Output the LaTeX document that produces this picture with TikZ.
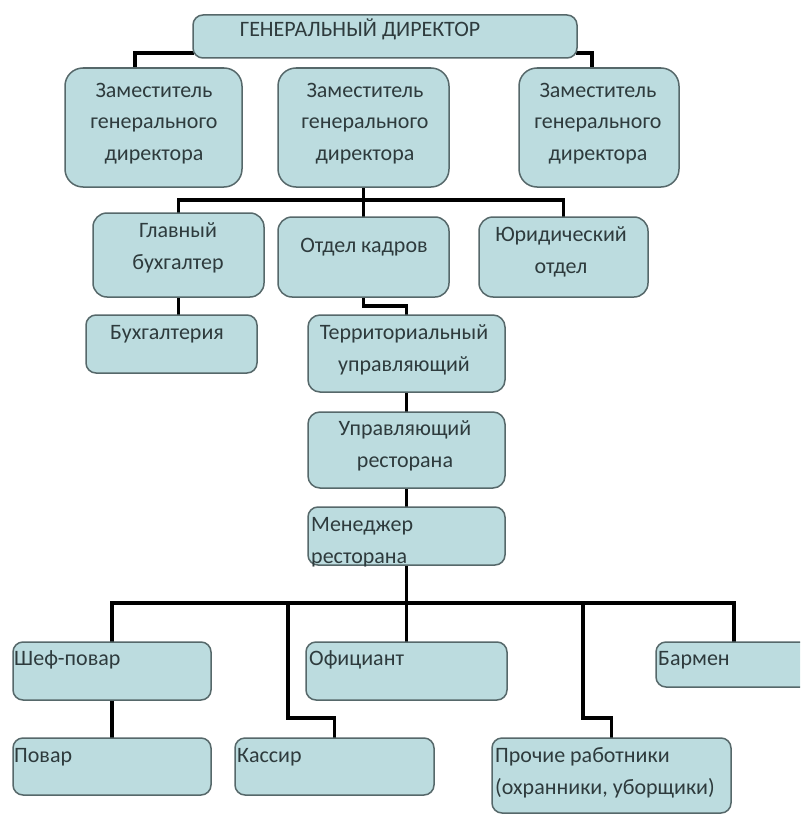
\documentclass[tikz,border=0pt]{standalone}
\usepackage{fontspec}
\setmainfont{Carlito}
\usetikzlibrary{calc}
\definecolor{boxfill}{HTML}{BCDCDF}
\definecolor{boxline}{HTML}{56686A}
\definecolor{txtcol}{HTML}{2E3B3D}
\pgfdeclarelayer{bg}
\pgfsetlayers{bg,main}
\tikzset{
  box/.style={draw=boxline, line width=1.5pt, fill=boxfill, rounded corners=#1, inner sep=0pt},
  box/.default=9pt,
  conn/.style={draw=black, line width=3.5pt, line cap=rect},
  txt/.style={text=txtcol, inner sep=0pt, font=\fontsize{22}{31.5}\selectfont},
  ctxt/.style={txt, align=center, anchor=base},
  ltxt/.style={txt, align=left, anchor=base west}
}
\begin{document}
\begin{tikzpicture}[x=1pt,y=-1pt]
\useasboundingbox (0,0) rectangle (800,816);
\begin{pgfonlayer}{bg}
\fill[white] (0,0) rectangle (800,816);
\end{pgfonlayer}
\clip (0,0) rectangle (800,816);

\coordinate (b1) at (0,200);
\coordinate (b2) at (0,306);
\coordinate (b3) at (0,603);
\coordinate (b4) at (0,718);
\coordinate (k1) at (288,603);
\coordinate (p1) at (583,603);

% boxes
\node[box=10pt, minimum width=384pt, minimum height=43pt] (gd) at (385,36.5) {};
\node[box=18pt, minimum width=177pt, minimum height=119pt] (d1) at (153.5,127.5) {};
\node[box=18pt, minimum width=171pt, minimum height=119pt] (d2) at (363.5,127.5) {};
\node[box=18pt, minimum width=160pt, minimum height=119pt] (d3) at (599,127.5) {};
\node[box=14pt, minimum width=171pt, minimum height=84pt] (gb) at (178.5,255) {};
\node[box=14pt, minimum width=171pt, minimum height=80pt] (ok) at (363.5,257) {};
\node[box=14pt, minimum width=169pt, minimum height=80pt] (ur) at (563.5,257) {};
\node[box=10pt, minimum width=171pt, minimum height=58pt] (bu) at (171.5,344) {};
\node[box=12pt, minimum width=197pt, minimum height=77pt] (tu) at (406.5,353.5) {};
\node[box=12pt, minimum width=197pt, minimum height=76pt] (ure) at (406.5,450) {};
\node[box=10pt, minimum width=197pt, minimum height=58pt] (mr) at (406.5,536) {};
\node[box=10pt, minimum width=198pt, minimum height=58pt] (sp) at (112,671) {};
\node[box=10pt, minimum width=201pt, minimum height=58pt] (of) at (406.5,671) {};
\node[box=10pt, minimum width=156pt, minimum height=45pt] (ba) at (734,664.5) {};
\node[box=10pt, minimum width=198pt, minimum height=57pt] (po) at (112,766.5) {};
\node[box=10pt, minimum width=199pt, minimum height=57pt] (ka) at (334.5,766.5) {};
\node[box=10pt, minimum width=239pt, minimum height=75pt] (pr) at (611.5,775.5) {};

% connector lines (behind the boxes)
\begin{pgfonlayer}{bg}
\draw[conn] ($(gd.west)+(0,16.5)$) -| ($(d1.north)+(-18.5,0)$);
\draw[conn] ($(gd.east)+(0,16.5)$) -| ($(d3.north)+(-7,0)$);
\draw[conn] ($(d2.north)+(-7.5,0)$) -- ($(d2.north)+(-7.5,0)$ |- gd.south);
\draw[conn] (d2.south) -- (ok.north);
\draw[conn] (gb.north) |- (b1 -| ur.north) -- (ur.north);
\draw[conn] (gb.south) -- (gb.south |- bu.north);
\draw[conn] (ok.south) |- (b2 -| tu.north) -- (tu.north);
\draw[conn] (tu.south) -- (ure.north);
\draw[conn] (ure.south) -- (mr.north);
\draw[conn] (mr.south) -- (of.north);
\draw[conn] (sp.north) |- (b3 -| ba.north) -- (ba.north);
\draw[conn] (k1) |- (b4 -| ka.north) -- (ka.north);
\draw[conn] (p1) |- (b4 -| pr.north) -- (pr.north);
\draw[conn] (sp.south) -- (po.north);
\end{pgfonlayer}

% texts (base = baseline of the last line)
\node[ctxt] (tgd) at (360,37) {ГЕНЕРАЛЬНЫЙ ДИРЕКТОР};
\node[ctxt] (td1) at (154,160) {Заместитель\\генерального\\директора};
\node[ctxt] (td2) at (365,160) {Заместитель\\генерального\\директора};
\node[ctxt] (td3) at (598,160) {Заместитель\\генерального\\директора};
\node[ctxt] (tgb) at (178,269) {Главный\\бухгалтер};
\node[ctxt] (tok) at (364,252) {Отдел кадров};
\node[ctxt] (tur) at (561,273) {Юридический\\отдел};
\node[ctxt] (tbu) at (167,339) {Бухгалтерия};
\node[ctxt] (ttu) at (404,371) {Территориальный\\управляющий};
\node[ctxt] (ture) at (405,467) {Управляющий\\ресторана};
\node[ltxt] (tmr) at (311,563) {Менеджер\\ресторана};
\node[ltxt] (tsp) at (14,665) {Шеф-повар};
\node[ltxt] (tof) at (309,665) {Официант};
\node[ltxt] (tba) at (658,665) {Бармен};
\node[ltxt] (tpo) at (14,762) {Повар};
\node[ltxt] (tka) at (237,762) {Кассир};
\node[ltxt] (tpr) at (495,794) {Прочие работники\\(охранники, уборщики)};
\end{tikzpicture}
\end{document}
